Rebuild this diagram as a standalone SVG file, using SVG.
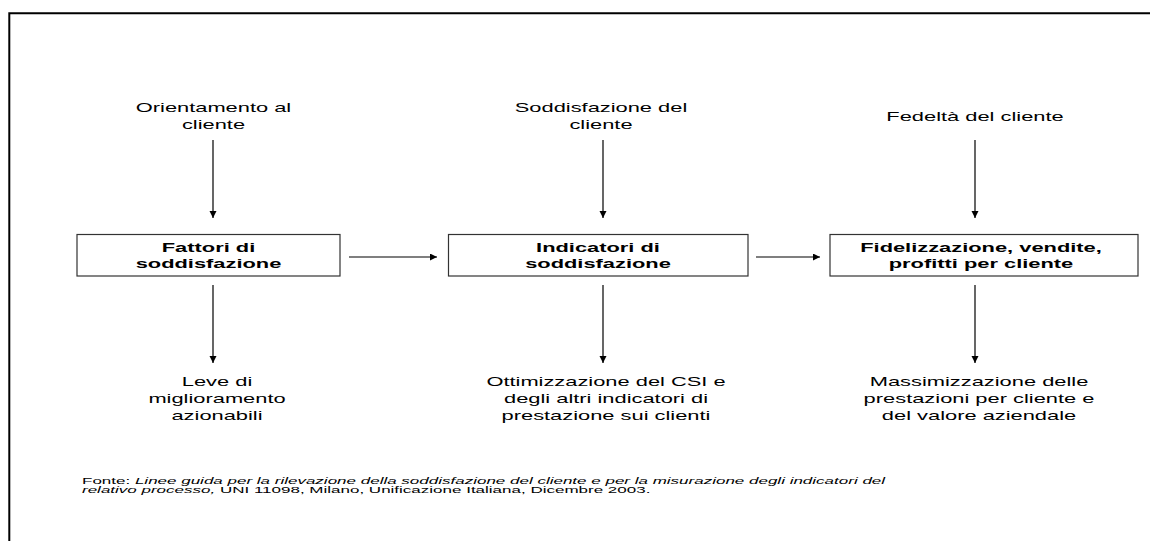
<svg xmlns="http://www.w3.org/2000/svg" width="1150" height="541" viewBox="0 0 1150 541">
  <style>
    .lbl { font-family: "Liberation Sans", Arial, Helvetica, sans-serif; font-size: 13.5px; fill: #000; text-anchor: middle; }
    .bold { font-weight: bold; }
    .note { font-family: "Liberation Sans", Arial, Helvetica, sans-serif; font-size: 9.5px; fill: #000; }
    .it { font-style: italic; }
    .box { fill: #fff; stroke: #333; stroke-width: 1.2; }
    .conn { stroke: #000; stroke-width: 1.2; fill: none; marker-end: url(#head); }
  </style>
  <defs>
    <marker id="head" markerUnits="userSpaceOnUse" markerWidth="8" markerHeight="8" refX="7" refY="3.5" orient="auto">
      <path d="M0,0 L7,3.5 L0,7 Z" fill="#000"/>
    </marker>
  </defs>

  <rect x="0" y="0" width="1150" height="541" fill="#fff"/>
  <!-- outer frame, open to the right and bottom -->
  <path d="M9.3,541 V13.3 H1150" fill="none" stroke="#000" stroke-width="2"/>

  <!-- connectors -->
  <g id="connectors">
    <line class="conn" x1="213" y1="140" x2="213" y2="218"/>
    <line class="conn" x1="603" y1="140" x2="603" y2="218"/>
    <line class="conn" x1="975" y1="140" x2="975" y2="218"/>
    <line class="conn" x1="213" y1="285" x2="213" y2="363"/>
    <line class="conn" x1="603" y1="285" x2="603" y2="363"/>
    <line class="conn" x1="975" y1="285" x2="975" y2="363"/>
    <line class="conn" x1="349" y1="257" x2="437" y2="257"/>
    <line class="conn" x1="756" y1="257" x2="820" y2="257"/>
  </g>

  <!-- top labels -->
  <g id="orientamento">
    <text class="lbl" transform="translate(213.5 0) scale(1.62 1)"><tspan x="0" y="112">Orientamento al</tspan><tspan x="0" y="129">cliente</tspan></text>
  </g>
  <g id="soddisfazione">
    <text class="lbl" transform="translate(601 0) scale(1.62 1)"><tspan x="0" y="112">Soddisfazione del</tspan><tspan x="0" y="129">cliente</tspan></text>
  </g>
  <g id="fedelta">
    <text class="lbl" transform="translate(975 0) scale(1.62 1)"><tspan x="0" y="121">Fedeltà del cliente</tspan></text>
  </g>

  <!-- boxes -->
  <g id="fattori">
    <rect class="box" x="77" y="234.5" width="263" height="41.5"/>
    <text class="lbl bold" transform="translate(208.5 0) scale(1.62 1)"><tspan x="0" y="252">Fattori di</tspan><tspan x="0" y="268">soddisfazione</tspan></text>
  </g>
  <g id="indicatori">
    <rect class="box" x="448.5" y="234.5" width="299.5" height="41.5"/>
    <text class="lbl bold" transform="translate(598 0) scale(1.62 1)"><tspan x="0" y="252">Indicatori di</tspan><tspan x="0" y="268">soddisfazione</tspan></text>
  </g>
  <g id="fidelizzazione">
    <rect class="box" x="830" y="234.5" width="308" height="41.5"/>
    <text class="lbl bold" transform="translate(981 0) scale(1.62 1)"><tspan x="0" y="252">Fidelizzazione, vendite,</tspan><tspan x="0" y="268">profitti per cliente</tspan></text>
  </g>

  <!-- bottom labels -->
  <g id="leve">
    <text class="lbl" transform="translate(217 0) scale(1.62 1)"><tspan x="0" y="386">Leve di</tspan><tspan x="0" y="403">miglioramento</tspan><tspan x="0" y="420">azionabili</tspan></text>
  </g>
  <g id="ottimizzazione">
    <text class="lbl" transform="translate(606 0) scale(1.62 1)"><tspan x="0" y="386">Ottimizzazione del CSI e</tspan><tspan x="0" y="403">degli altri indicatori di</tspan><tspan x="0" y="420">prestazione sui clienti</tspan></text>
  </g>
  <g id="massimizzazione">
    <text class="lbl" transform="translate(979 0) scale(1.62 1)"><tspan x="0" y="386">Massimizzazione delle</tspan><tspan x="0" y="403">prestazioni per cliente e</tspan><tspan x="0" y="420">del valore aziendale</tspan></text>
  </g>

  <!-- source note -->
  <g id="fonte">
    <text class="note" transform="translate(82 0) scale(1.79 1)"><tspan x="0" y="484">Fonte: <tspan class="it">Linee guida per la rilevazione della soddisfazione del cliente e per la misurazione degli indicatori del</tspan></tspan><tspan x="0" y="493.5"><tspan class="it">relativo processo,</tspan> UNI 11098, Milano, Unificazione Italiana, Dicembre 2003.</tspan></text>
  </g>
</svg>
